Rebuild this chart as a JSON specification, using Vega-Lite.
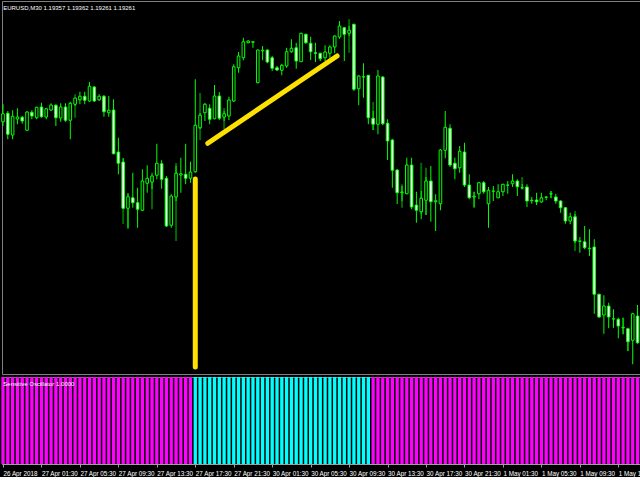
{
"$schema": "https://vega.github.io/schema/vega-lite/v6.json",
"background": "#000000",
"padding": 0,
"spacing": 3,
"bounds": "flush",
"config": {"view": {"stroke": "#808080", "strokeWidth": 1}},
"datasets": {
"candles": [
{"i":0,"o":1.20917,"h":1.20987,"l":1.20900,"c":1.20949,"s":"d","v":1},
{"i":1,"o":1.20951,"h":1.20960,"l":1.20847,"c":1.20867,"s":"d","v":1},
{"i":2,"o":1.20864,"h":1.20963,"l":1.20847,"c":1.20939,"s":"d","v":1},
{"i":3,"o":1.20928,"h":1.20971,"l":1.20907,"c":1.20936,"s":"d","v":1},
{"i":4,"o":1.20935,"h":1.20940,"l":1.20909,"c":1.20920,"s":"d","v":1},
{"i":5,"o":1.20883,"h":1.20960,"l":1.20880,"c":1.20956,"s":"d","v":1},
{"i":6,"o":1.20955,"h":1.20963,"l":1.20927,"c":1.20940,"s":"d","v":1},
{"i":7,"o":1.20933,"h":1.20977,"l":1.20927,"c":1.20975,"s":"d","v":1},
{"i":8,"o":1.20976,"h":1.20993,"l":1.20933,"c":1.20937,"s":"d","v":1},
{"i":9,"o":1.20936,"h":1.20973,"l":1.20927,"c":1.20969,"s":"d","v":1},
{"i":10,"o":1.20964,"h":1.20991,"l":1.20960,"c":1.20984,"s":"d","v":1},
{"i":11,"o":1.20983,"h":1.20987,"l":1.20900,"c":1.20933,"s":"d","v":1},
{"i":12,"o":1.20932,"h":1.20991,"l":1.20917,"c":1.20976,"s":"d","v":1},
{"i":13,"o":1.20976,"h":1.20991,"l":1.20917,"c":1.20923,"s":"d","v":1},
{"i":14,"o":1.20923,"h":1.20997,"l":1.20847,"c":1.20991,"s":"d","v":1},
{"i":15,"o":1.20987,"h":1.21013,"l":1.20980,"c":1.21012,"s":"d","v":1},
{"i":16,"o":1.21005,"h":1.21037,"l":1.20987,"c":1.21019,"s":"d","v":1},
{"i":17,"o":1.21019,"h":1.21037,"l":1.20987,"c":1.21003,"s":"d","v":1},
{"i":18,"o":1.21000,"h":1.21076,"l":1.20997,"c":1.21059,"s":"d","v":1},
{"i":19,"o":1.21056,"h":1.21060,"l":1.20997,"c":1.21000,"s":"d","v":1},
{"i":20,"o":1.21005,"h":1.21027,"l":1.21000,"c":1.21019,"s":"d","v":1},
{"i":21,"o":1.21019,"h":1.21024,"l":1.20937,"c":1.20957,"s":"d","v":1},
{"i":22,"o":1.20953,"h":1.21020,"l":1.20937,"c":1.20963,"s":"d","v":1},
{"i":23,"o":1.20964,"h":1.21007,"l":1.20787,"c":1.20789,"s":"d","v":1},
{"i":24,"o":1.20796,"h":1.20853,"l":1.20707,"c":1.20751,"s":"d","v":1},
{"i":25,"o":1.20756,"h":1.20771,"l":1.20567,"c":1.20571,"s":"d","v":1},
{"i":26,"o":1.20571,"h":1.20629,"l":1.20493,"c":1.20617,"s":"d","v":1},
{"i":27,"o":1.20613,"h":1.20713,"l":1.20573,"c":1.20593,"s":"d","v":1},
{"i":28,"o":1.20593,"h":1.20653,"l":1.20493,"c":1.20567,"s":"d","v":1},
{"i":29,"o":1.20563,"h":1.20727,"l":1.20560,"c":1.20680,"s":"d","v":1},
{"i":30,"o":1.20671,"h":1.20743,"l":1.20633,"c":1.20691,"s":"d","v":1},
{"i":31,"o":1.20676,"h":1.20713,"l":1.20648,"c":1.20700,"s":"d","v":1},
{"i":32,"o":1.20703,"h":1.20829,"l":1.20687,"c":1.20751,"s":"d","v":1},
{"i":33,"o":1.20749,"h":1.20763,"l":1.20649,"c":1.20687,"s":"d","v":1},
{"i":34,"o":1.20691,"h":1.20700,"l":1.20496,"c":1.20500,"s":"d","v":1},
{"i":35,"o":1.20503,"h":1.20627,"l":1.20493,"c":1.20620,"s":"d","v":1},
{"i":36,"o":1.20616,"h":1.20740,"l":1.20600,"c":1.20711,"s":"d","v":1},
{"i":37,"o":1.20704,"h":1.20773,"l":1.20633,"c":1.20709,"s":"d","v":1},
{"i":38,"o":1.20707,"h":1.20829,"l":1.20667,"c":1.20691,"s":"d","v":1},
{"i":39,"o":1.20691,"h":1.20757,"l":1.20673,"c":1.20716,"s":"d","v":1},
{"i":40,"o":1.20717,"h":1.21087,"l":1.20713,"c":1.20903,"s":"u","v":1},
{"i":41,"o":1.20893,"h":1.20952,"l":1.20888,"c":1.20943,"s":"u","v":1},
{"i":42,"o":1.20953,"h":1.20993,"l":1.20920,"c":1.20987,"s":"u","v":1},
{"i":43,"o":1.20971,"h":1.20987,"l":1.20907,"c":1.20927,"s":"u","v":1},
{"i":44,"o":1.20929,"h":1.21064,"l":1.20927,"c":1.21020,"s":"u","v":1},
{"i":45,"o":1.21020,"h":1.21036,"l":1.20924,"c":1.20931,"s":"u","v":1},
{"i":46,"o":1.20936,"h":1.20960,"l":1.20920,"c":1.20949,"s":"u","v":1},
{"i":47,"o":1.20940,"h":1.21017,"l":1.20924,"c":1.21004,"s":"u","v":1},
{"i":48,"o":1.21000,"h":1.21147,"l":1.20996,"c":1.21137,"s":"u","v":1},
{"i":49,"o":1.21133,"h":1.21196,"l":1.21113,"c":1.21180,"s":"u","v":1},
{"i":50,"o":1.21173,"h":1.21253,"l":1.21163,"c":1.21237,"s":"u","v":1},
{"i":51,"o":1.21233,"h":1.21243,"l":1.21231,"c":1.21240,"s":"u","v":1},
{"i":52,"o":1.21235,"h":1.21240,"l":1.21213,"c":1.21237,"s":"u","v":1},
{"i":53,"o":1.21073,"h":1.21206,"l":1.21071,"c":1.21204,"s":"u","v":1},
{"i":54,"o":1.21201,"h":1.21220,"l":1.21163,"c":1.21203,"s":"u","v":1},
{"i":55,"o":1.21204,"h":1.21207,"l":1.21151,"c":1.21156,"s":"u","v":1},
{"i":56,"o":1.21173,"h":1.21180,"l":1.21120,"c":1.21131,"s":"u","v":1},
{"i":57,"o":1.21133,"h":1.21140,"l":1.21120,"c":1.21124,"s":"u","v":1},
{"i":58,"o":1.21123,"h":1.21149,"l":1.21103,"c":1.21143,"s":"u","v":1},
{"i":59,"o":1.21140,"h":1.21213,"l":1.21133,"c":1.21197,"s":"u","v":1},
{"i":60,"o":1.21197,"h":1.21247,"l":1.21193,"c":1.21211,"s":"u","v":1},
{"i":61,"o":1.21213,"h":1.21233,"l":1.21129,"c":1.21160,"s":"u","v":1},
{"i":62,"o":1.21157,"h":1.21273,"l":1.21156,"c":1.21271,"s":"u","v":1},
{"i":63,"o":1.21267,"h":1.21269,"l":1.21229,"c":1.21233,"s":"u","v":1},
{"i":64,"o":1.21231,"h":1.21257,"l":1.21164,"c":1.21197,"s":"u","v":1},
{"i":65,"o":1.21193,"h":1.21233,"l":1.21156,"c":1.21191,"s":"u","v":1},
{"i":66,"o":1.21191,"h":1.21193,"l":1.21160,"c":1.21169,"s":"u","v":1},
{"i":67,"o":1.21173,"h":1.21223,"l":1.21160,"c":1.21196,"s":"u","v":1},
{"i":68,"o":1.21191,"h":1.21223,"l":1.21173,"c":1.21216,"s":"u","v":1},
{"i":69,"o":1.21216,"h":1.21263,"l":1.21191,"c":1.21260,"s":"u","v":1},
{"i":70,"o":1.21256,"h":1.21320,"l":1.21249,"c":1.21300,"s":"u","v":1},
{"i":71,"o":1.21293,"h":1.21296,"l":1.21160,"c":1.21267,"s":"u","v":1},
{"i":72,"o":1.21271,"h":1.21300,"l":1.21260,"c":1.21283,"s":"u","v":1},
{"i":73,"o":1.21307,"h":1.21309,"l":1.21040,"c":1.21047,"s":"u","v":1},
{"i":74,"o":1.21049,"h":1.21103,"l":1.20983,"c":1.21100,"s":"u","v":1},
{"i":75,"o":1.21096,"h":1.21151,"l":1.21013,"c":1.21097,"s":"u","v":1},
{"i":76,"o":1.21103,"h":1.21104,"l":1.20907,"c":1.20933,"s":"u","v":1},
{"i":77,"o":1.20931,"h":1.20960,"l":1.20884,"c":1.20907,"s":"d","v":1},
{"i":78,"o":1.20907,"h":1.21124,"l":1.20867,"c":1.21100,"s":"d","v":1},
{"i":79,"o":1.21096,"h":1.21100,"l":1.20903,"c":1.20909,"s":"d","v":1},
{"i":80,"o":1.20911,"h":1.20927,"l":1.20764,"c":1.20840,"s":"d","v":1},
{"i":81,"o":1.20844,"h":1.20849,"l":1.20653,"c":1.20723,"s":"d","v":1},
{"i":82,"o":1.20724,"h":1.20727,"l":1.20588,"c":1.20633,"s":"d","v":1},
{"i":83,"o":1.20633,"h":1.20660,"l":1.20600,"c":1.20636,"s":"d","v":1},
{"i":84,"o":1.20629,"h":1.20773,"l":1.20627,"c":1.20744,"s":"d","v":1},
{"i":85,"o":1.20744,"h":1.20773,"l":1.20567,"c":1.20576,"s":"d","v":1},
{"i":86,"o":1.20584,"h":1.20637,"l":1.20513,"c":1.20563,"s":"d","v":1},
{"i":87,"o":1.20557,"h":1.20640,"l":1.20527,"c":1.20611,"s":"d","v":1},
{"i":88,"o":1.20603,"h":1.20696,"l":1.20544,"c":1.20680,"s":"d","v":1},
{"i":89,"o":1.20680,"h":1.20740,"l":1.20517,"c":1.20597,"s":"d","v":1},
{"i":90,"o":1.20597,"h":1.20627,"l":1.20480,"c":1.20601,"s":"d","v":1},
{"i":91,"o":1.20589,"h":1.20807,"l":1.20563,"c":1.20804,"s":"d","v":1},
{"i":92,"o":1.20803,"h":1.20960,"l":1.20771,"c":1.20895,"s":"d","v":1},
{"i":93,"o":1.20891,"h":1.20907,"l":1.20736,"c":1.20744,"s":"d","v":1},
{"i":94,"o":1.20751,"h":1.20773,"l":1.20687,"c":1.20729,"s":"d","v":1},
{"i":95,"o":1.20733,"h":1.20820,"l":1.20713,"c":1.20799,"s":"d","v":1},
{"i":96,"o":1.20796,"h":1.20833,"l":1.20656,"c":1.20664,"s":"d","v":1},
{"i":97,"o":1.20664,"h":1.20707,"l":1.20607,"c":1.20613,"s":"d","v":1},
{"i":98,"o":1.20616,"h":1.20637,"l":1.20573,"c":1.20619,"s":"d","v":1},
{"i":99,"o":1.20629,"h":1.20677,"l":1.20607,"c":1.20673,"s":"d","v":1},
{"i":100,"o":1.20673,"h":1.20680,"l":1.20629,"c":1.20637,"s":"d","v":1},
{"i":101,"o":1.20589,"h":1.20656,"l":1.20493,"c":1.20643,"s":"d","v":1},
{"i":102,"o":1.20639,"h":1.20660,"l":1.20600,"c":1.20640,"s":"d","v":1},
{"i":103,"o":1.20613,"h":1.20667,"l":1.20611,"c":1.20637,"s":"d","v":1},
{"i":104,"o":1.20637,"h":1.20669,"l":1.20620,"c":1.20667,"s":"d","v":1},
{"i":105,"o":1.20663,"h":1.20680,"l":1.20629,"c":1.20664,"s":"d","v":1},
{"i":106,"o":1.20669,"h":1.20707,"l":1.20656,"c":1.20680,"s":"d","v":1},
{"i":107,"o":1.20680,"h":1.20687,"l":1.20620,"c":1.20657,"s":"d","v":1},
{"i":108,"o":1.20652,"h":1.20668,"l":1.20647,"c":1.20653,"s":"d","v":1},
{"i":109,"o":1.20656,"h":1.20667,"l":1.20576,"c":1.20600,"s":"d","v":1},
{"i":110,"o":1.20601,"h":1.20616,"l":1.20589,"c":1.20603,"s":"d","v":1},
{"i":111,"o":1.20604,"h":1.20633,"l":1.20584,"c":1.20597,"s":"d","v":1},
{"i":112,"o":1.20596,"h":1.20633,"l":1.20593,"c":1.20613,"s":"d","v":1},
{"i":113,"o":1.20615,"h":1.20620,"l":1.20603,"c":1.20616,"s":"d","v":1},
{"i":114,"o":1.20628,"h":1.20640,"l":1.20612,"c":1.20629,"s":"d","v":1},
{"i":115,"o":1.20616,"h":1.20629,"l":1.20589,"c":1.20600,"s":"d","v":1},
{"i":116,"o":1.20600,"h":1.20603,"l":1.20553,"c":1.20573,"s":"d","v":1},
{"i":117,"o":1.20573,"h":1.20576,"l":1.20509,"c":1.20520,"s":"d","v":1},
{"i":118,"o":1.20520,"h":1.20553,"l":1.20507,"c":1.20537,"s":"d","v":1},
{"i":119,"o":1.20537,"h":1.20548,"l":1.20432,"c":1.20440,"s":"d","v":1},
{"i":120,"o":1.20439,"h":1.20456,"l":1.20393,"c":1.20440,"s":"d","v":1},
{"i":121,"o":1.20437,"h":1.20500,"l":1.20407,"c":1.20413,"s":"d","v":1},
{"i":122,"o":1.20409,"h":1.20487,"l":1.20380,"c":1.20411,"s":"d","v":1},
{"i":123,"o":1.20416,"h":1.20447,"l":1.20149,"c":1.20227,"s":"d","v":1},
{"i":124,"o":1.20227,"h":1.20229,"l":1.20133,"c":1.20136,"s":"d","v":1},
{"i":125,"o":1.20144,"h":1.20223,"l":1.20069,"c":1.20180,"s":"d","v":1},
{"i":126,"o":1.20180,"h":1.20193,"l":1.20091,"c":1.20136,"s":"d","v":1},
{"i":127,"o":1.20128,"h":1.20167,"l":1.20093,"c":1.20129,"s":"d","v":1},
{"i":128,"o":1.20127,"h":1.20133,"l":1.20051,"c":1.20100,"s":"d","v":1},
{"i":129,"o":1.20093,"h":1.20133,"l":1.20067,"c":1.20095,"s":"d","v":1},
{"i":130,"o":1.20089,"h":1.20093,"l":1.20000,"c":1.20037,"s":"d","v":1},
{"i":131,"o":1.20043,"h":1.20153,"l":1.19947,"c":1.20149,"s":"d","v":1},
{"i":132,"o":1.20140,"h":1.20184,"l":1.20029,"c":1.20033,"s":"d","v":1}
],
"ghost": [
{"i":15,"hi":1.21027,"lo":1.20933},{"i":25,"hi":1.20772,"lo":1.20508},{"i":26,"hi":1.20632,"lo":1.20488},
{"i":31,"hi":1.20700,"lo":1.20567},{"i":36,"hi":1.20752,"lo":1.20440},{"i":41,"hi":1.21032,"lo":1.20844},
{"i":46,"hi":1.20972,"lo":1.20888},{"i":72,"hi":1.21327,"lo":1.21193},{"i":77,"hi":1.20996,"lo":1.20884},
{"i":83,"hi":1.20667,"lo":1.20573},{"i":87,"hi":1.20753,"lo":1.20547},{"i":88,"hi":1.20733,"lo":1.20544},
{"i":98,"hi":1.20637,"lo":1.20576},{"i":108,"hi":1.20696,"lo":1.20647},{"i":114,"hi":1.20640,"lo":1.20611},
{"i":119,"hi":1.20560,"lo":1.20400},{"i":129,"hi":1.20133,"lo":1.20067},{"i":130,"hi":1.20068,"lo":1.20000}
],
"lines": [
{"i1":40,"p1":1.20688,"i2":40,"p2":1.19936},
{"i1":42.6,"p1":1.20831,"i2":69.5,"p2":1.21180}
]
},
"vconcat": [
{
"width": 640, "height": 373,
"title": {"text": "EURUSD,M30  1.19357 1.19362 1.19261 1.19261", "anchor": "start", "offset": -10, "dx": 2, "fontSize": 6, "font": "Liberation Sans", "fontWeight": "normal", "color": "#ffffff"},
"layer": [
{"data": {"name": "ghost"}, "mark": {"type": "rule", "color": "#006600", "strokeWidth": 2},
 "encoding": {
  "x": {"field": "i", "type": "quantitative", "scale": {"domain": [-0.208, 132.93], "nice": false, "zero": false, "padding": 0}, "axis": null},
  "y": {"field": "hi", "type": "quantitative", "scale": {"domain": [1.19908, 1.214], "nice": false, "zero": false, "padding": 0}, "axis": null},
  "y2": {"field": "lo"}}},
{"data": {"name": "candles"}, "mark": {"type": "rule", "color": "#00ff00", "strokeWidth": 1},
 "encoding": {"x": {"field": "i", "type": "quantitative"}, "y": {"field": "l", "type": "quantitative"}, "y2": {"field": "h"}}},
{"data": {"name": "candles"}, "mark": {"type": "bar", "size": 2.6, "stroke": "#00ff00", "strokeWidth": 1},
 "encoding": {"x": {"field": "i", "type": "quantitative"}, "y": {"field": "o", "type": "quantitative"}, "y2": {"field": "c"},
  "fill": {"condition": {"test": "datum.c < datum.o", "value": "#ffffff"}, "value": "#000000"}}},
{"data": {"name": "lines"}, "mark": {"type": "rule", "color": "#ffe100", "strokeWidth": 5, "strokeCap": "round"},
 "encoding": {"x": {"field": "i1", "type": "quantitative"}, "y": {"field": "p1", "type": "quantitative"}, "x2": {"field": "i2"}, "y2": {"field": "p2"}}}
]
},
{
"width": 640, "height": 87,
"data": {"name": "candles"},
"title": {"text": "Sensitive Oscillator 1.0000", "anchor": "start", "offset": -10, "dx": 2, "fontSize": 6, "font": "Liberation Sans", "fontWeight": "normal", "color": "#ffffff"},
"mark": {"type": "bar", "size": 3.3},
"encoding": {
 "x": {"field": "i", "type": "quantitative", "scale": {"domain": [-0.208, 132.93], "nice": false, "zero": false, "padding": 0},
  "axis": {"values": [0,8,16,24,32,40,48,56,64,72,80,88,96,104,112,120,128],
   "labelExpr": "['26 Apr 2018','27 Apr 01:30','27 Apr 05:30','27 Apr 09:30','27 Apr 13:30','27 Apr 17:30','27 Apr 21:30','30 Apr 01:30','30 Apr 05:30','30 Apr 09:30','30 Apr 13:30','30 Apr 17:30','30 Apr 21:30','1 May 01:30','1 May 05:30','1 May 09:30','1 May 13:30'][round(datum.value/8)]",
   "labelAlign": "left", "labelColor": "#ffffff", "labelFont": "Liberation Sans", "labelFontSize": 6.3,
   "tickColor": "#a0a0a0", "domainColor": "#a0a0a0", "tickSize": 3, "labelPadding": 3, "grid": false, "title": null,
   "labelOverlap": false, "labelFlush": false, "labelBound": false}},
 "y": {"field": "v", "type": "quantitative", "scale": {"domain": [0, 1], "nice": false, "padding": 0}, "axis": null},
 "color": {"field": "s", "type": "nominal", "scale": {"domain": ["u", "d"], "range": ["#00ffff", "#ff00ff"]}, "legend": null}
}
}
]
}
